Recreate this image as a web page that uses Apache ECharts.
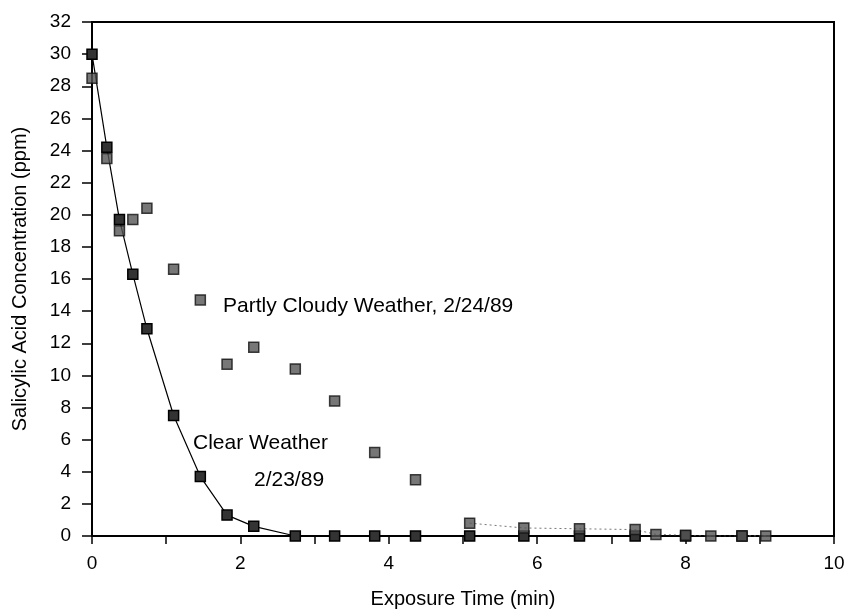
<!DOCTYPE html>
<html>
<head>
    <meta charset="UTF-8">
    <title>Salicylic Acid Concentration</title>
    <script src="https://cdn.jsdelivr.net/npm/echarts@6/dist/echarts.min.js"></script>
</head>
<body style="margin:0;background:#fff;">
    <div id="main" style="width: 848px;height:610px;"></div>
    <script type="text/javascript">
        var myChart = echarts.init(document.getElementById('main'));

        // exposure times (min)
        var clearTime = [0, 0.2, 0.37, 0.55, 0.74, 1.1, 1.46, 1.82, 2.18, 2.74, 3.27, 3.81, 4.36, 5.09, 5.82, 6.57, 7.32, 8.0, 8.76];
        var clearConc = [30, 24.2, 19.7, 16.3, 12.9, 7.5, 3.7, 1.3, 0.6, 0, 0, 0, 0, 0, 0, 0, 0, 0, 0];

        var cloudyTime = [0, 0.2, 0.37, 0.55, 0.74, 1.1, 1.46, 1.82, 2.18, 2.74, 3.27, 3.81, 4.36, 5.09, 5.82, 6.57, 7.32, 7.6, 8.0, 8.34, 8.76, 9.08];
        var cloudyConc = [28.5, 23.5, 19.0, 19.7, 20.4, 16.6, 14.7, 10.7, 11.75, 10.4, 8.4, 5.2, 3.5, 0.8, 0.5, 0.45, 0.4, 0.1, 0.05, 0, 0, 0];

        // dotted tail of the partly cloudy run starts at this index
        var tailStart = 13;

        function pairs(xs, ys) {
            return xs.map(function(x, i) { return [x, ys[i]]; });
        }

        var font = 'Liberation Sans, Arial, sans-serif';

        var option = {
            animation: false,
            backgroundColor: '#fff',
            grid: {
                left: 92, right: 14, top: 22, bottom: 74,
                outerBoundsMode: 'none',
                show: true, borderColor: '#000', borderWidth: 2
            },
            xAxis: {
                type: 'value',
                min: 0, max: 10, interval: 1,
                name: 'Exposure Time (min)',
                nameLocation: 'middle',
                nameGap: 53,
                nameTextStyle: { fontFamily: font, fontSize: 20, color: '#000' },
                axisLine: { lineStyle: { color: '#000', width: 2 } },
                axisTick: { show: true, length: 8, lineStyle: { color: '#000', width: 1.5 } },
                axisLabel: {
                    margin: 18,
                    fontFamily: font, fontSize: 19, color: '#000',
                    formatter: function(v) { return v % 2 === 0 ? String(v) : ''; }
                },
                splitLine: { show: false }
            },
            yAxis: {
                type: 'value',
                min: 0, max: 32, interval: 2,
                name: 'Salicylic Acid Concentration (ppm)',
                nameLocation: 'middle',
                nameGap: 62,
                nameTextStyle: { fontFamily: font, fontSize: 20, color: '#000' },
                axisLine: { show: true, lineStyle: { color: '#000', width: 2 } },
                axisTick: { show: true, length: 10, lineStyle: { color: '#000', width: 1.5 } },
                axisLabel: { margin: 21, fontFamily: font, fontSize: 19, color: '#000' },
                splitLine: { show: false }
            },
            series: [
                {
                    name: 'Partly Cloudy tail',
                    type: 'line',
                    data: pairs(cloudyTime.slice(tailStart), cloudyConc.slice(tailStart)),
                    symbol: 'none',
                    lineStyle: { color: '#777', width: 1, type: [2, 3] },
                    z: 1
                },
                {
                    name: 'Clear Weather',
                    type: 'line',
                    data: pairs(clearTime, clearConc),
                    symbol: 'rect',
                    symbolSize: 10,
                    lineStyle: { color: '#000', width: 1.2 },
                    itemStyle: { color: '#333', borderColor: '#000', borderWidth: 1.5 },
                    z: 3
                },
                {
                    name: 'Partly Cloudy Weather',
                    type: 'scatter',
                    data: pairs(cloudyTime, cloudyConc),
                    symbol: 'rect',
                    symbolSize: 10,
                    itemStyle: { color: '#555', borderColor: '#111', borderWidth: 1.5 },
                    z: 4
                }
            ],
            graphic: [
                {
                    type: 'text', left: 223, top: 296,
                    style: { text: 'Partly Cloudy Weather, 2/24/89', font: '21px ' + font, fill: '#000' }
                },
                {
                    type: 'text', left: 193, top: 433,
                    style: { text: 'Clear Weather', font: '21px ' + font, fill: '#000' }
                },
                {
                    type: 'text', left: 254, top: 470,
                    style: { text: '2/23/89', font: '21px ' + font, fill: '#000' }
                }
            ]
        };

        myChart.setOption(option);
    </script>
</body>
</html>
